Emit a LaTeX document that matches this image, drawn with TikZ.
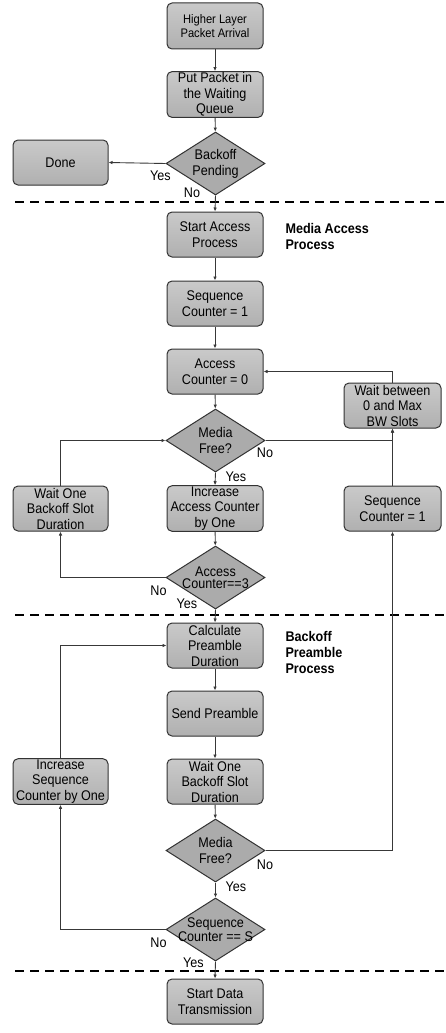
\documentclass[tikz,border=0pt]{standalone}
\usepackage{fontspec}
\setmainfont[FakeStretch=0.9]{Liberation Sans}
\usetikzlibrary{positioning,calc,shapes.geometric,arrows.meta}

\tikzset{
	stepbox/.style={draw=black!80, line width=1pt, rounded corners=5pt,
		top color=gray!42, bottom color=gray!62, minimum width=96pt,
		minimum height=45pt, inner sep=1pt, align=center,
		font=\fontsize{14}{15.5}\selectfont},
	decision/.style={diamond, draw=black!80, line width=1pt, fill=gray!66,
		minimum width=99pt, minimum height=63pt, inner sep=0pt},
	dtext/.style={align=center, font=\fontsize{14}{#1}\selectfont},
	dtext/.default=15.5,
	conn/.style={draw=black!78, line width=0.9pt, -{Latex[length=4pt,width=3.5pt]}},
	lbl/.style={font=\fontsize{14}{15}\selectfont},
	phase/.style={align=left, anchor=west, font=\bfseries\fontsize{14}{16.5}\selectfont},
	divider/.style={dash pattern=on 9pt off 6pt, line width=1.5pt}
}

\begin{document}
\begin{tikzpicture}[x=1pt,y=-1pt]
	\useasboundingbox (0,0) rectangle (446,1033);
	\begin{scope}
		% arrival of a packet
		\node[stepbox, minimum height=46pt, font=\fontsize{12.4}{13.4}\selectfont] (arrival) at (215,26) {Higher Layer\\Packet Arrival};
		\node[stepbox] (queue) at (215,94.5) {Put Packet in\\the Waiting\\Queue};
		\node[decision] (pending) at (215.5,163.5) {};
		\node[dtext=16] at (pending) {Backoff\\Pending};
		\node[stepbox, minimum width=95pt] (done) at (60.5,162.5) {Done};
		
		\draw[divider] (15,202) -- (446,202);
		
		% media access process
		\node[stepbox] (start) at (215,234.5) {Start Access\\Process};
		\node[phase] (mediatitle) at (282,236.5) {Media Access\\Process};
		\node[stepbox] (seqone) at (215,303.5) {Sequence\\Counter = 1};
		\node[stepbox] (acczero) at (215,371.5) {Access\\Counter = 0};
		\node[decision] (freeone) at (215.5,440.5) {};
		\node[dtext] at (freeone) {Media\\Free?};
		\node[stepbox, minimum width=97pt] (waitbw) at (392.5,405.5) {Wait between\\0 and Max\\BW Slots};
		\node[stepbox] (incacc) at (215,508.5) {Increase\\Access Counter\\by One};
		\node[stepbox, minimum width=95pt] (waitleft) at (60.5,508.5) {Wait One\\Backoff Slot\\Duration};
		\node[stepbox, minimum width=97pt] (seqright) at (392.5,508.5) {Sequence\\Counter = 1};
		\node[decision] (accthree) at (215.5,577.5) {};
		\node[dtext=12] at (accthree) {Access\\Counter==3};
		
		\draw[divider] (15,615) -- (446,615);
		
		% backoff preamble process
		\node[stepbox] (calc) at (215,645.5) {Calculate\\Preamble\\Duration};
		\node[phase, font=\bfseries\fontsize{14}{16}\selectfont] (preambletitle) at (282,652) {Backoff\\Preamble\\Process};
		\node[stepbox] (send) at (215,713.5) {Send Preamble};
		\node[stepbox] (waitone) at (215,781.5) {Wait One\\Backoff Slot\\Duration};
		\node[stepbox, minimum width=95pt] (incseq) at (60.5,781.5) {Increase\\Sequence\\Counter by One};
		\node[decision] (freetwo) at (215.5,850.5) {};
		\node[dtext] at (freetwo) {Media\\Free?};
		\node[decision] (seqs) at (215.5,929.5) {};
		\node[dtext=11.5] at (seqs) {Sequence\\Counter == S};
		
		\draw[divider] (15,971) -- (446,971);
		
		\node[stepbox] (data) at (215,1001.5) {Start Data\\Transmission};
		
		% connectors
		\coordinate (nojoin) at (392.5,440.5);
		\draw[conn] (arrival) -- (queue);
		\draw[conn] (queue) -- (pending);
		\draw[conn] (pending.west) -- (done.east);
		\draw[conn] (pending.south) -- (start.north);
		\draw[conn] (start) -- (seqone);
		\draw[conn] (seqone) -- (acczero);
		\draw[conn] (acczero) -- (freeone);
		\draw[conn] (freeone.south) -- (incacc.north);
		\draw[conn] (freeone.east) -- (nojoin) -- (waitbw.south);
		\draw[conn] (seqright.north) -- (waitbw.south);
		\draw[conn] (waitbw.north) |- (acczero.east);
		\draw[conn] (incacc) -- (accthree);
		\draw[conn] (accthree.west) -| (waitleft.south);
		\draw[conn] (waitleft.north) |- (freeone.west);
		\draw[conn] (accthree.south) -- (calc.north);
		\draw[conn] (calc) -- (send);
		\draw[conn] (send) -- (waitone);
		\draw[conn] (waitone) -- (freetwo);
		\draw[conn] (freetwo.east) -| (seqright.south);
		\draw[conn] (freetwo.south) -- (seqs.north);
		\draw[conn] (seqs.west) -| (incseq.south);
		\draw[conn] (incseq.north) |- (calc.west);
		\draw[conn] (seqs.south) -- (data.north);
		
		% yes / no labels
		\node[lbl] at (160.5,175.5) {Yes};
		\node[lbl] at (192,192.5) {No};
		\node[lbl] at (265,453) {No};
		\node[lbl] at (236,477) {Yes};
		\node[lbl] at (158.5,591) {No};
		\node[lbl] at (187,604) {Yes};
		\node[lbl] at (265,865) {No};
		\node[lbl] at (236,887) {Yes};
		\node[lbl] at (158.5,943) {No};
		\node[lbl] at (193.5,963) {Yes};
	\end{scope}
\end{tikzpicture}
\end{document}
